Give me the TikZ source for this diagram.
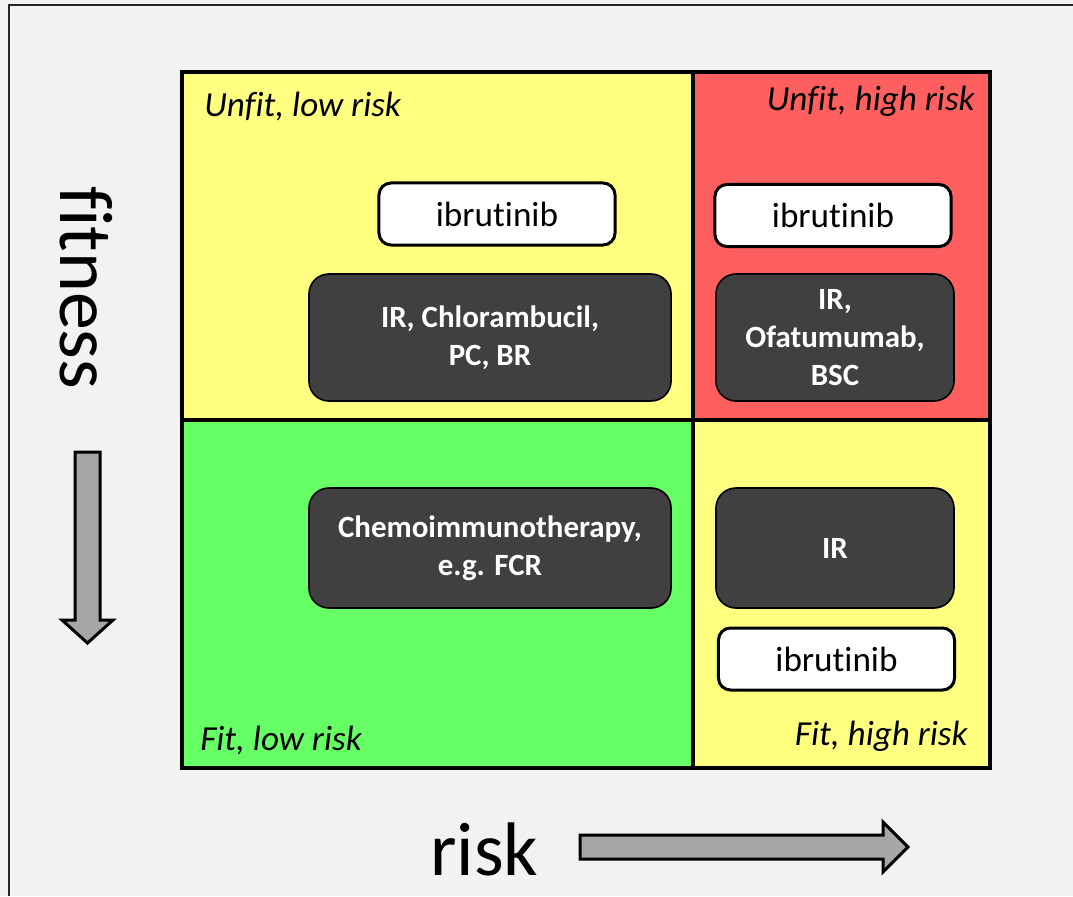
\documentclass[tikz,border=0pt]{standalone}
\usepackage{fontspec}
\setmainfont{Carlito}[Ligatures=NoCommon]
\definecolor{pagegray}{HTML}{F2F2F2}
\definecolor{lowyellow}{HTML}{FFFF80}
\definecolor{highred}{HTML}{FF5F5F}
\definecolor{fitgreen}{HTML}{66FF66}
\definecolor{boxgray}{HTML}{404040}
\definecolor{arrowgray}{HTML}{A6A6A6}

\begin{document}
\begin{tikzpicture}[x=0.025cm, y=-0.025cm,
    drug/.style={rectangle, draw, line width=0.75mm, fill=white, rounded corners=3mm,
                 font=\fontsize{25}{30}\selectfont, minimum width=5.9cm, minimum height=1.55cm, inner sep=0pt},
    therapy/.style={rectangle, draw, line width=0.4mm, fill=boxgray, text=white, rounded corners=5mm,
                 font=\bfseries\fontsize{22}{27}\selectfont, align=center, inner sep=0pt},
    zone/.style={font=\itshape\fontsize{25}{30}\selectfont, inner sep=0pt},
    axislabel/.style={font=\fontsize{54}{60}\selectfont, inner sep=0pt},
    bigarrow/.style={draw, line width=0.75mm, fill=arrowgray, line join=miter}]
    %page
    \fill[pagegray] (0,0) rectangle (1073,896);
    \useasboundingbox (0,0) rectangle (1073,896);
    \draw[line width=0.5mm, black!85] (9,896) -- (9,5) -- (1073,5);
    %quadrants
    \fill[lowyellow] (182,72) rectangle (693,420);
    \fill[highred] (693,72) rectangle (990,420);
    \fill[fitgreen] (182,420) rectangle (693,768);
    \fill[lowyellow] (693,420) rectangle (990,768);
    \draw[line width=0.9mm] (182,72) rectangle (990,768);
    \draw[line width=0.9mm] (693,72) -- (693,768) (182,420) -- (990,420);
    \node[zone, anchor=base west](UL) at (204,116) {Unfit, low risk};
    \node[zone, anchor=base east](UH) at (975,110) {Unfit, high risk};
    \node[zone, anchor=base west](FL) at (200,750) {Fit, low risk};
    \node[zone, anchor=base east](FH) at (968,745) {Fit, high risk};
    %treatments
    \node[drug](ib1) at (497,214) {ibrutinib};
    \node[therapy, minimum width=9.05cm, minimum height=3.175cm](ir1) at (490,337.5) {IR, Chlorambucil,\\PC, BR};
    \node[drug](ib2) at (833,215.5) {ibrutinib};
    \node[therapy, minimum width=5.95cm, minimum height=3.175cm](ir2) at (835,337.5) {IR,\\Ofatumumab,\\BSC};
    \node[therapy, minimum width=9.05cm, minimum height=3cm](chemo) at (490,548) {Chemoimmunotherapy,\\e.g. FCR};
    \node[therapy, minimum width=5.95cm, minimum height=3cm](ir3) at (835,548) {IR};
    \node[drug](ib3) at (836.5,659) {ibrutinib};
    %axes
    \node[axislabel, rotate=-90, anchor=base west](fit) at (60,186) {fitness};
    \draw[bigarrow] (75,452) -- (100,452) -- (100,620) -- (113,620) -- (87.5,643) -- (62,620) -- (75,620) -- cycle;
    \node[axislabel, anchor=base west](risk) at (430,875) {risk};
    \draw[bigarrow] (580,835) -- (883,835) -- (883,822) -- (908,847) -- (883,872) -- (883,859) -- (580,859) -- cycle;
\end{tikzpicture}
\end{document}
